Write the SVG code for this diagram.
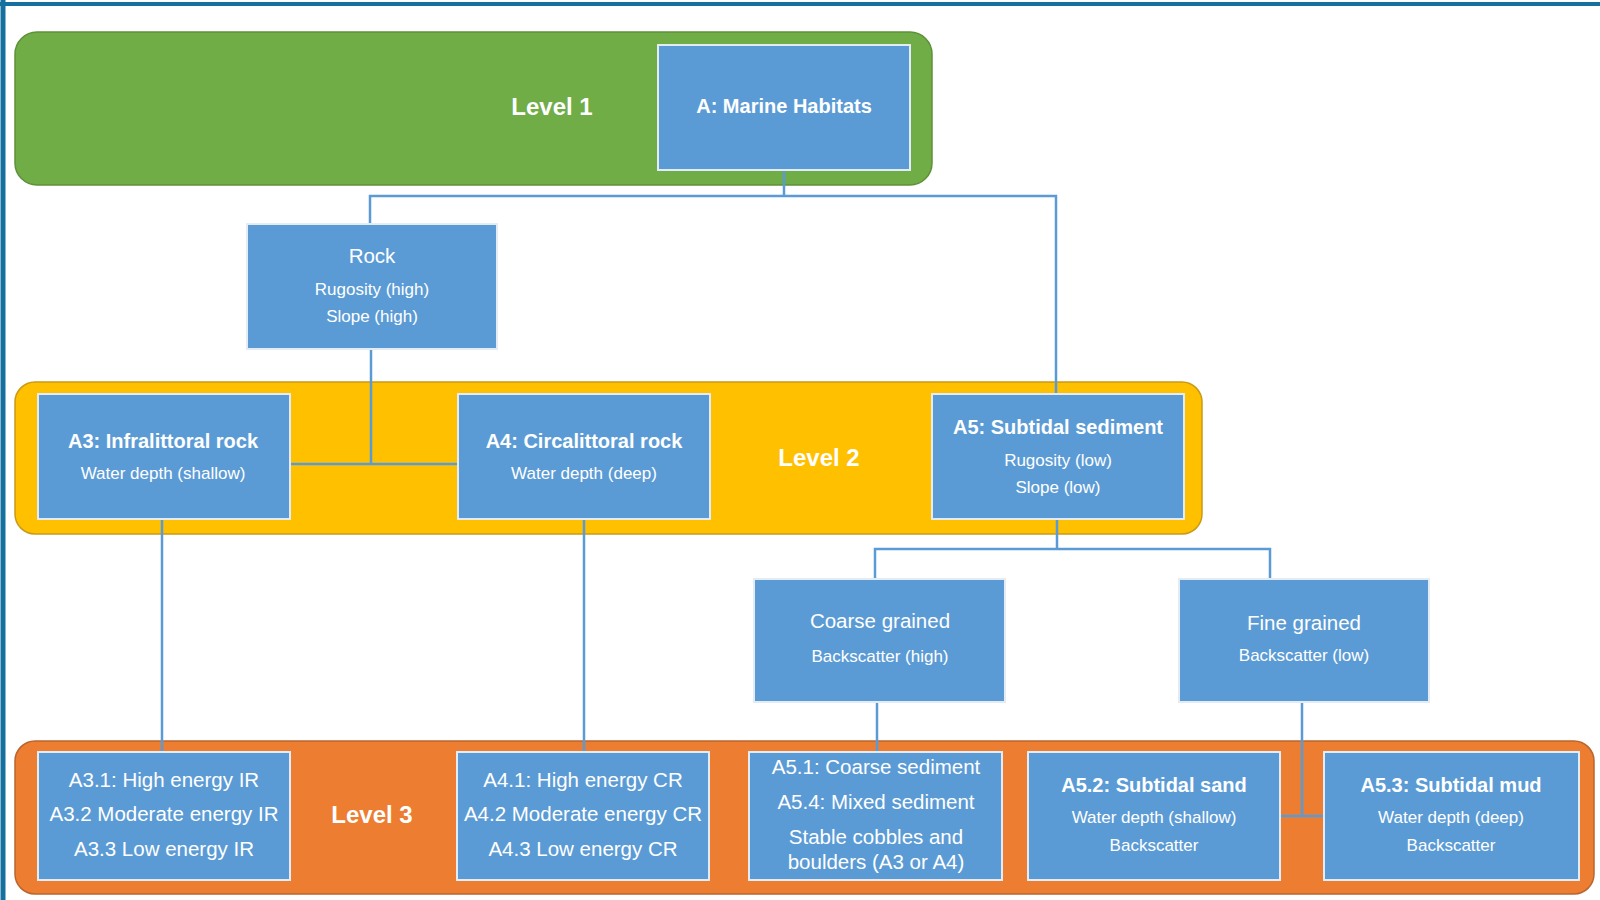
<svg xmlns="http://www.w3.org/2000/svg" width="1600" height="900" viewBox="0 0 1600 900">
<style>
  .band-g { fill:#70AD47; stroke:#5E9139; stroke-width:1.5; }
  .band-y { fill:#FFC000; stroke:#C99A17; stroke-width:1.5; }
  .band-o { fill:#ED7D31; stroke:#B9652E; stroke-width:1.5; }
  .box { fill:#5B9BD5; stroke:#E3ECF5; stroke-width:2; }
  .t { font-family:"Liberation Sans", Arial, sans-serif; fill:#FFFFFF; text-anchor:middle; dominant-baseline:central; }
  .lvl { font-size:24px; font-weight:bold; }
  .ttl { font-size:20px; font-weight:bold; }
  .big { font-size:20.5px; }
  .sm { font-size:17px; }
  .conn { fill:none; stroke:#5B9BD5; stroke-width:2.5; }
</style>
<rect x="0" y="0" width="1600" height="900" fill="#FFFFFF"/>
<g id="frame">
  <line x1="0" y1="4" x2="1600" y2="4" stroke="#1570A0" stroke-width="4"/>
  <line x1="3" y1="0" x2="3" y2="900" stroke="#1570A0" stroke-width="5"/>
</g>
<g id="bands">
  <rect class="band-g" x="15" y="32" width="917" height="153" rx="22"/>
  <rect class="band-y" x="15" y="382" width="1187" height="152" rx="20"/>
  <rect class="band-o" x="15" y="741" width="1579" height="153" rx="20"/>
  <text class="t lvl" x="552" y="106">Level 1</text>
  <text class="t lvl" x="819" y="457">Level 2</text>
  <text class="t lvl" x="372" y="814">Level 3</text>
</g>
<g id="connectors">
  <polyline class="conn" points="784,170 784,196"/>
  <polyline class="conn" points="370,224 370,196 1056,196 1056,394"/>
  <polyline class="conn" points="371,349 371,464"/>
  <polyline class="conn" points="290,464 458,464"/>
  <polyline class="conn" points="1057,519 1057,549"/>
  <polyline class="conn" points="875,579 875,549 1270,549 1270,579"/>
  <polyline class="conn" points="162,519 162,752"/>
  <polyline class="conn" points="584,519 584,752"/>
  <polyline class="conn" points="877,702 877,752"/>
  <polyline class="conn" points="1302,702 1302,816"/>
  <polyline class="conn" points="1280,816 1324,816"/>
</g>
<g id="node-marine">
  <rect class="box" x="658" y="45" width="252" height="125"/>
  <text class="t ttl" x="784" y="106">A: Marine Habitats</text>
</g>
<g id="node-rock">
  <rect class="box" x="247" y="224" width="250" height="125"/>
  <text class="t big" x="372" y="255">Rock</text>
  <text class="t sm" x="372" y="289">Rugosity (high)</text>
  <text class="t sm" x="372" y="316">Slope (high)</text>
</g>
<g id="node-a3">
  <rect class="box" x="38" y="394" width="252" height="125"/>
  <text class="t ttl" x="163" y="441">A3: Infralittoral rock</text>
  <text class="t sm" x="163" y="473">Water depth (shallow)</text>
</g>
<g id="node-a4">
  <rect class="box" x="458" y="394" width="252" height="125"/>
  <text class="t ttl" x="584" y="441">A4: Circalittoral rock</text>
  <text class="t sm" x="584" y="473">Water depth (deep)</text>
</g>
<g id="node-a5">
  <rect class="box" x="932" y="394" width="252" height="125"/>
  <text class="t ttl" x="1058" y="427">A5: Subtidal sediment</text>
  <text class="t sm" x="1058" y="460">Rugosity (low)</text>
  <text class="t sm" x="1058" y="487">Slope (low)</text>
</g>
<g id="node-coarse">
  <rect class="box" x="754" y="579" width="251" height="123"/>
  <text class="t big" x="880" y="620">Coarse grained</text>
  <text class="t sm" x="880" y="656">Backscatter (high)</text>
</g>
<g id="node-fine">
  <rect class="box" x="1179" y="579" width="250" height="123"/>
  <text class="t big" x="1304" y="622">Fine grained</text>
  <text class="t sm" x="1304" y="655">Backscatter (low)</text>
</g>
<g id="node-a3x">
  <rect class="box" x="38" y="752" width="252" height="128"/>
  <text class="t big" x="164" y="779">A3.1: High energy IR</text>
  <text class="t big" x="164" y="813">A3.2 Moderate energy IR</text>
  <text class="t big" x="164" y="848">A3.3 Low energy IR</text>
</g>
<g id="node-a4x">
  <rect class="box" x="457" y="752" width="252" height="128"/>
  <text class="t big" x="583" y="779">A4.1: High energy CR</text>
  <text class="t big" x="583" y="813">A4.2 Moderate energy CR</text>
  <text class="t big" x="583" y="848">A4.3 Low energy CR</text>
</g>
<g id="node-a51">
  <rect class="box" x="749" y="752" width="253" height="128"/>
  <text class="t big" x="876" y="766">A5.1: Coarse sediment</text>
  <text class="t big" x="876" y="801">A5.4: Mixed sediment</text>
  <text class="t big" x="876" y="836">Stable cobbles and</text>
  <text class="t big" x="876" y="861">boulders (A3 or A4)</text>
</g>
<g id="node-a52">
  <rect class="box" x="1028" y="752" width="252" height="128"/>
  <text class="t ttl" x="1154" y="785">A5.2: Subtidal sand</text>
  <text class="t sm" x="1154" y="817">Water depth (shallow)</text>
  <text class="t sm" x="1154" y="845">Backscatter</text>
</g>
<g id="node-a53">
  <rect class="box" x="1324" y="752" width="255" height="128"/>
  <text class="t ttl" x="1451" y="785">A5.3: Subtidal mud</text>
  <text class="t sm" x="1451" y="817">Water depth (deep)</text>
  <text class="t sm" x="1451" y="845">Backscatter</text>
</g>
</svg>
